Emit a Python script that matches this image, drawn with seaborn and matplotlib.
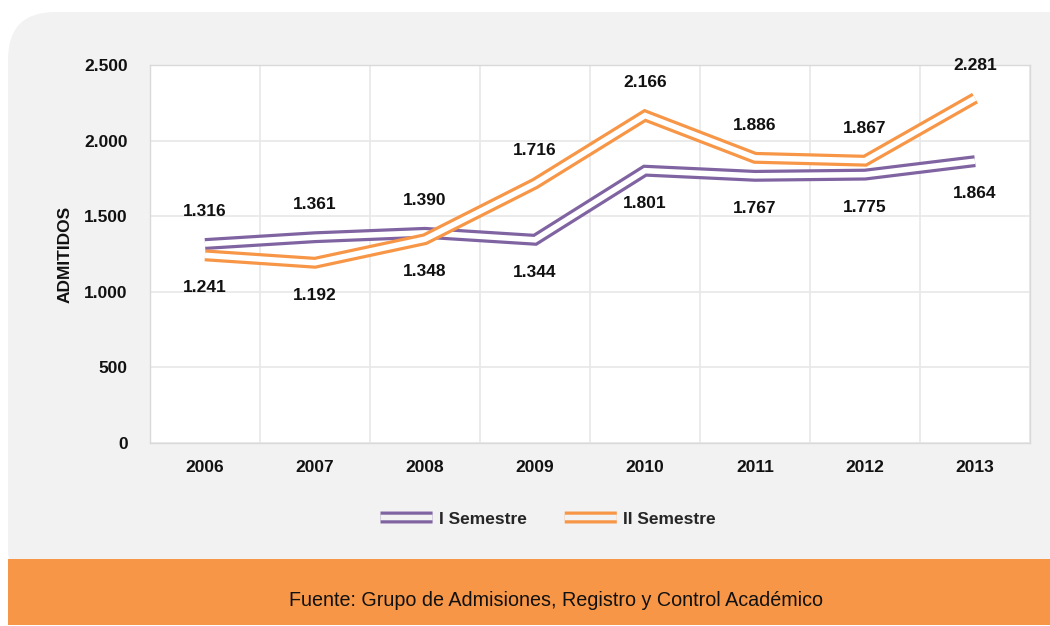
import matplotlib
matplotlib.use("Agg")
import matplotlib.pyplot as plt
import seaborn as sns
import pandas as pd
from matplotlib.patches import FancyBboxPatch, Rectangle
from matplotlib.lines import Line2D
from matplotlib.legend_handler import HandlerBase
from matplotlib.ticker import FuncFormatter, MultipleLocator

years = [2006, 2007, 2008, 2009, 2010, 2011, 2012, 2013]
sem1 = [1316, 1361, 1390, 1344, 1801, 1767, 1775, 1864]
sem2 = [1241, 1192, 1348, 1716, 2166, 1886, 1867, 2281]
series_names = ["I Semestre", "II Semestre"]
colors = {"I Semestre": "#8064a2", "II Semestre": "#f79646"}
# label goes above (+1) or below (-1) the line
sem1_side = [1, 1, 1, -1, -1, -1, -1, -1]
sem2_side = [-1, -1, -1, 1, 1, 1, 1, 1]

OUTER, INNER = 8.6, 4.0

df = pd.DataFrame({
    "year": years * 2,
    "value": sem1 + sem2,
    "serie": [series_names[0]] * len(years) + [series_names[1]] * len(years),
    "side": sem1_side + sem2_side,
})


class DoubleLine(HandlerBase):
    """legend entry drawn like the excel compound line"""

    def create_artists(self, legend, orig_handle, xdescent, ydescent,
                       width, height, fontsize, trans):
        y = height / 2 - ydescent
        xs = [-xdescent, width - xdescent]
        outer = Line2D(xs, [y, y], color=orig_handle.get_color(), linewidth=OUTER,
                       solid_capstyle="butt", snap=False)
        inner = Line2D(xs, [y, y], color="#f2f2f2", linewidth=INNER,
                       solid_capstyle="butt", snap=False)
        outer.set_transform(trans)
        inner.set_transform(trans)
        return [outer, inner]


sns.set_theme(style="white")
plt.rcParams["font.family"] = ["Liberation Sans", "DejaVu Sans"]

fig = plt.figure(figsize=(10.5, 6.26), dpi=100)
fig.patch.set_facecolor("white")
W, H = 1050, 626

# gray rounded panel and orange source band
panel = FancyBboxPatch((8 / W, 30 / H), 1.2, (H - 12 - 30) / H,
                       boxstyle="round,pad=0,rounding_size=0.045",
                       transform=fig.transFigure, facecolor="#f2f2f2",
                       edgecolor="none", zorder=-2, mutation_aspect=W / H)
fig.patches.append(panel)
band = Rectangle((8 / W, 1 / H), 1.0, (626 - 560) / H,
                 transform=fig.transFigure, facecolor="#f79646",
                 edgecolor="none", zorder=-1)
fig.patches.append(band)
fig.text(556 / W, 1 - 600 / H, "Fuente: Grupo de Admisiones, Registro y Control Académico",
         ha="center", va="center", fontsize=14.2, color="#111111")

ax = fig.add_axes([150 / W, 1 - 443 / H, 880 / W, 378 / H])
ax.set_facecolor("white")
ax.set_zorder(2)

for name in series_names:
    sub = df[df["serie"] == name]
    sns.lineplot(data=sub, x="year", y="value", color=colors[name],
                 linewidth=OUTER, ax=ax, legend=False, zorder=3,
                 solid_joinstyle="miter", solid_capstyle="butt")
    sns.lineplot(data=sub, x="year", y="value", color="white",
                 linewidth=INNER, ax=ax, legend=False, zorder=3,
                 solid_joinstyle="miter", solid_capstyle="butt")
    for _, r in sub.iterrows():
        txt = f"{r['value']:,}".replace(",", ".")
        ax.annotate(txt, (r["year"], r["value"]), xytext=(0, 23.5 * r["side"]),
                    textcoords="offset points", ha="center", va="center",
                    fontsize=12.5, fontweight="bold", color="#111111")

ax.set_xlim(years[0] - 0.5, years[-1] + 0.5)
ax.set_ylim(0, 2500)
ax.set_xticks(years)
ax.set_xticklabels([str(y) for y in years])
ax.xaxis.set_minor_locator(MultipleLocator(1, offset=0.5))
ax.yaxis.set_major_locator(MultipleLocator(500))
ax.yaxis.set_major_formatter(FuncFormatter(lambda v, p: f"{v:,.0f}".replace(",", ".")))
ax.grid(axis="y", which="major", color="#e8e8e8", linewidth=1.2)
ax.grid(axis="x", which="minor", color="#e8e8e8", linewidth=1.2)
ax.set_axisbelow(True)
for s in ax.spines.values():
    s.set_color("#d9d9d9")
    s.set_linewidth(1.0)
ax.tick_params(axis="both", which="both", length=0, labelsize=12.5, colors="#111111")
ax.tick_params(axis="x", pad=12)
ax.tick_params(axis="y", pad=16)
for lab in ax.get_xticklabels() + ax.get_yticklabels():
    lab.set_fontweight("bold")
ax.set_xlabel("")
ax.set_ylabel("ADMITIDOS", fontsize=12.5, fontweight="bold", color="#111111", labelpad=8)

handles = [Line2D([], [], color=colors[name]) for name in series_names]
fig.legend(handles, series_names, handler_map={Line2D: DoubleLine()},
           loc="center", bbox_to_anchor=(548 / W, 1 - 519 / H), ncol=2,
           frameon=False, handlelength=3.0, columnspacing=2.2, handletextpad=0.35,
           prop={"size": 12.5, "weight": "bold"})

fig.savefig("out.png", dpi=100, facecolor=fig.get_facecolor())
